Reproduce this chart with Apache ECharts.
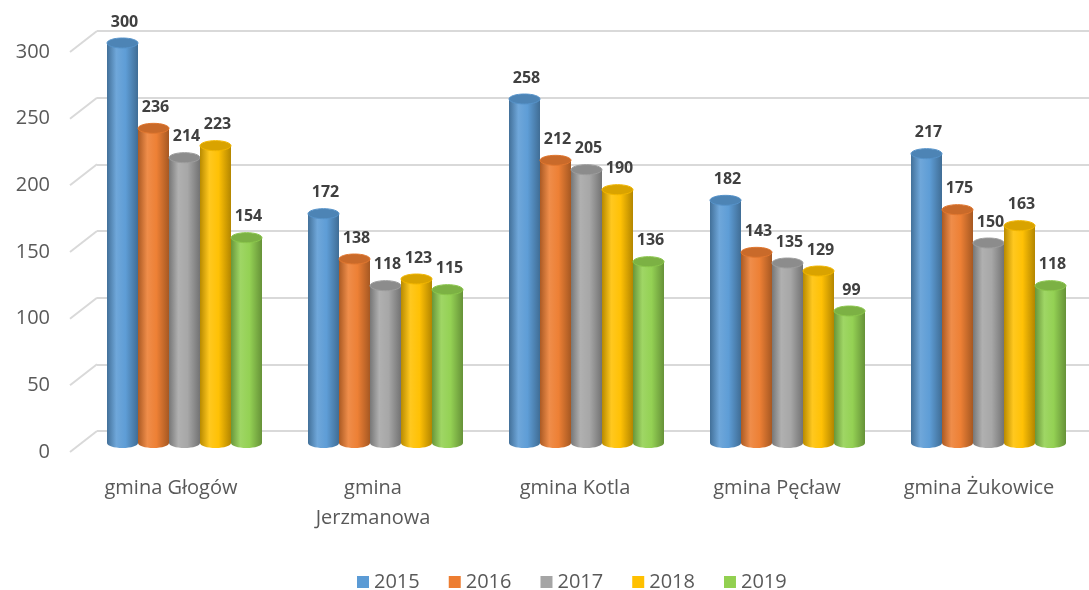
<!DOCTYPE html>
<html>
<head>
<meta charset="utf-8">
<script src="https://cdn.jsdelivr.net/npm/echarts@6/dist/echarts.min.js"></script>
<style>
  html, body { margin: 0; padding: 0; background: #fff; }
  #chart { width: 1089px; height: 590px; }
</style>
</head>
<body>
<div id="chart"></div>
<script>
var categories = ['gmina Głogów', 'gmina Jerzmanowa', 'gmina Kotla', 'gmina Pęcław', 'gmina Żukowice'];
var years = ['2015', '2016', '2017', '2018', '2019'];
var v2015 = [300, 172, 258, 182, 217];
var v2016 = [236, 138, 212, 143, 175];
var v2017 = [214, 118, 205, 135, 150];
var v2018 = [223, 123, 190, 129, 163];
var v2019 = [154, 115, 136, 99, 118];
var yTicks = [0, 50, 100, 150, 200, 250, 300];

var seriesValues = [v2015, v2016, v2017, v2018, v2019];
var colors = ['#5b9bd5', '#ed7d31', '#a5a5a5', '#ffc000', '#92d050'];
var FONT = '"Open Sans", sans-serif';
var BAR_W = 31;

function shade(hex, f) {
  var n = parseInt(hex.slice(1), 16);
  var r = (n >> 16) & 255, g = (n >> 8) & 255, b = n & 255;
  function c(x) {
    x = f >= 1 ? x + (255 - x) * (f - 1) : x * f;
    return Math.max(0, Math.min(255, Math.round(x)));
  }
  return 'rgb(' + c(r) + ',' + c(g) + ',' + c(b) + ')';
}

function bodyGradient(base) {
  return new echarts.graphic.LinearGradient(0, 0, 1, 0, [
    { offset: 0, color: shade(base, 0.72) },
    { offset: 0.3, color: shade(base, 1.12) },
    { offset: 0.6, color: shade(base, 1.02) },
    { offset: 1, color: shade(base, 0.7) }
  ]);
}

function cylinder(si) {
  var base = colors[si];
  return function (params, api) {
    var idx = api.value(0);
    var val = api.value(1);
    var top = api.coord([idx, val]);
    var bottom = api.coord([idx, 0]);
    var cx = top[0] + (si - 2) * BAR_W;
    var rx = BAR_W / 2, ry = 5;
    return {
      type: 'group',
      children: [
        {
          type: 'ellipse',
          shape: { cx: cx, cy: bottom[1], rx: rx, ry: ry },
          style: { fill: bodyGradient(base) }
        },
        {
          type: 'rect',
          shape: { x: cx - rx, y: top[1], width: BAR_W, height: bottom[1] - top[1] },
          style: { fill: bodyGradient(base) }
        },
        {
          type: 'ellipse',
          shape: { cx: cx, cy: top[1], rx: rx, ry: ry },
          style: { fill: shade(base, 0.85), stroke: shade(base, 0.95), lineWidth: 1 }
        },
        {
          type: 'text',
          style: {
            x: cx + 2, y: top[1] - 13,
            text: String(val),
            fill: '#404040',
            font: 'bold 16px ' + FONT,
            textAlign: 'center', textVerticalAlign: 'bottom'
          }
        }
      ]
    };
  };
}

var chart = echarts.init(document.getElementById('chart'));

var series = years.map(function (y, si) {
  return {
    name: y,
    type: 'custom',
    xAxisIndex: 0, yAxisIndex: 0,
    itemStyle: { color: colors[si] },
    renderItem: cylinder(si),
    clip: false,
    data: seriesValues[si].map(function (v, i) { return [i, v]; })
  };
});

// diagonal floor/wall connectors of the gridlines
series.push({
  type: 'custom',
  xAxisIndex: 2, yAxisIndex: 2,
  silent: true,
  clip: false,
  renderItem: function (params, api) {
    var v = api.value(0);
    var a = api.coord([0, v]);
    var b = api.coord([1, v]);
    return {
      type: 'line',
      shape: { x1: a[0], y1: a[1], x2: b[0], y2: b[1] - 21 },
      style: { stroke: '#d9d9d9', lineWidth: 2 }
    };
  },
  data: yTicks.map(function (t) { return [t]; }),
  encode: { y: 0 }
});

chart.setOption({
  animation: false,
  backgroundColor: '#fff',
  textStyle: { fontFamily: FONT },
  legend: {
    top: 567,
    left: 352,
    icon: 'rect',
    itemWidth: 12,
    itemHeight: 12,
    itemGap: 29,
    data: years,
    textStyle: { fontSize: 20, color: '#595959', fontFamily: FONT }
  },
  grid: [
    { left: 84, width: 1010, top: 43, height: 400 },
    { left: 97, right: 0, top: 31, height: 400 },
    { left: 70, width: 27, top: 52, height: 400 },
    { left: 70, width: 1010, top: 43, height: 400 }
  ],
  xAxis: [
    { gridIndex: 0, type: 'category', data: categories, show: false },
    { gridIndex: 1, type: 'category', data: categories, show: false },
    { gridIndex: 2, type: 'value', min: 0, max: 1, show: false },
    {
      gridIndex: 3, type: 'category', data: categories,
      axisLine: { show: false }, axisTick: { show: false },
      axisLabel: {
        margin: 30, fontSize: 20, color: '#595959', fontFamily: FONT, lineHeight: 30,
        formatter: function (s) { return s.length > 14 ? s.replace(' ', '\n') : s; }
      }
    }
  ],
  yAxis: [
    { gridIndex: 0, type: 'value', min: 0, max: 300, interval: 50, show: false },
    {
      gridIndex: 1, type: 'value', min: 0, max: 300, interval: 50,
      axisLine: { show: false }, axisTick: { show: false }, axisLabel: { show: false },
      splitLine: { lineStyle: { color: '#d9d9d9', width: 2 } }
    },
    {
      gridIndex: 2, type: 'value', min: 0, max: 300, interval: 50,
      axisLine: { show: false }, axisTick: { show: false }, splitLine: { show: false },
      axisLabel: { margin: 20, fontSize: 20, color: '#595959', fontFamily: FONT }
    },
    { gridIndex: 3, type: 'value', min: 0, max: 300, show: false }
  ],
  series: series
});
</script>
</body>
</html>
